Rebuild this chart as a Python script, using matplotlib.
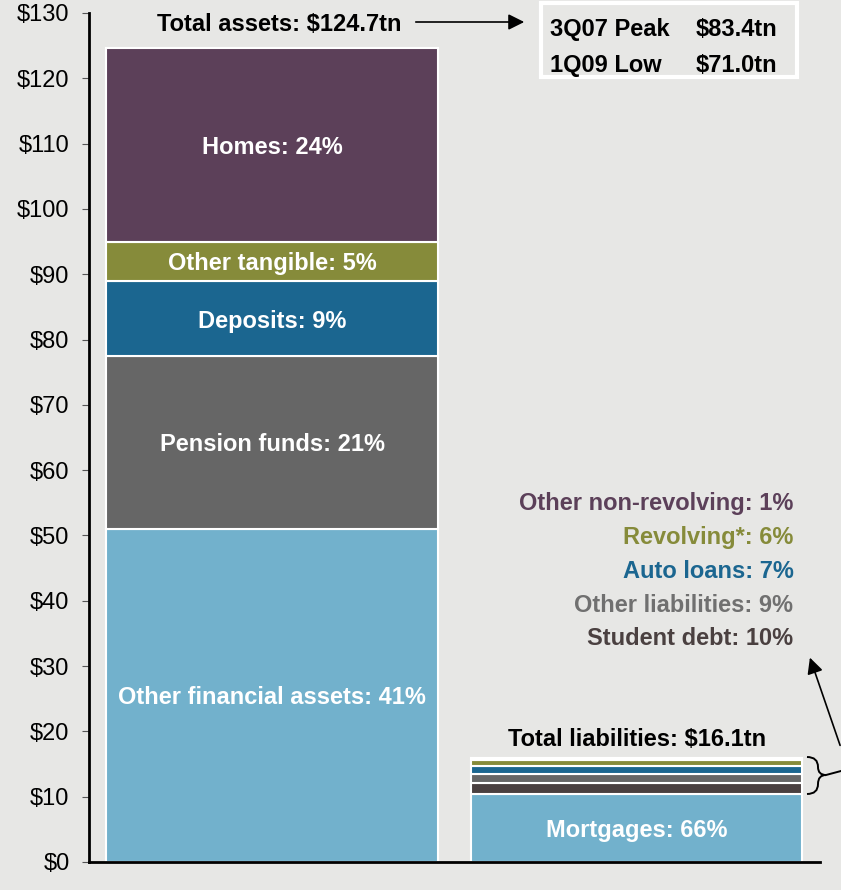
import matplotlib
matplotlib.use("Agg")
import matplotlib.pyplot as plt
from matplotlib.patches import Rectangle, PathPatch
from matplotlib.path import Path

plt.rcParams["font.family"] = ["Liberation Sans", "DejaVu Sans"]

# 数据
asset_names = ["Other financial assets", "Pension funds", "Deposits", "Other tangible", "Homes"]
asset_values = [51.0, 26.5, 11.4, 6.1, 29.7]
asset_pcts = [41, 21, 9, 5, 24]
asset_colors = ["#72b1cc", "#666666", "#1b6690", "#868b3a", "#5c4059"]

liab_names = ["Mortgages", "Student debt", "Other liabilities", "Auto loans", "Revolving*", "Other non-revolving"]
liab_values = [10.4, 1.7, 1.4, 1.15, 1.0, 0.2]
liab_pcts = [66, 10, 9, 7, 6, 1]
liab_colors = ["#72b1cc", "#4a4040", "#666666", "#1b6690", "#868b3a", "#5c4059"]
liab_text_colors = ["#ffffff", "#4a4040", "#707070", "#1b6690", "#868b3a", "#5c4059"]

total_assets = 124.7
total_liab = 16.1
yticks = list(range(0, 131, 10))

bg = "#e7e7e5"
FS = 17
VA = "center_baseline"
W, H = 841, 890
fig = plt.figure(figsize=(W / 100, H / 100), dpi=100, facecolor=bg)
ax = fig.add_axes([89 / W, 1 - 862 / H, 731 / W, 849 / H], facecolor=bg)


def px(x, y):
    return (x / W, 1 - y / H)


# 资产柱
bottom = 0
for name, v, p, c in zip(asset_names, asset_values, asset_pcts, asset_colors):
    ax.bar(0, v, bottom=bottom, width=0.91, color=c, edgecolor="white", linewidth=1.5)
    ax.text(0, bottom + v / 2, f"{name}: {p}%", ha="center", va=VA,
            color="white", fontsize=FS, fontweight="bold")
    bottom += v

# 负债柱
bottom = 0
for name, v, p, c in zip(liab_names, liab_values, liab_pcts, liab_colors):
    ax.bar(1, v, bottom=bottom, width=0.91, color=c, edgecolor="white", linewidth=1.5)
    bottom += v
ax.text(1, liab_values[0] / 2, f"{liab_names[0]}: {liab_pcts[0]}%", ha="center",
        va=VA, color="white", fontsize=FS, fontweight="bold")

# 右侧图例文字
leg_y = [34.6, 39.7, 44.9, 50.1, 55.3]
for y, name, p, c in zip(leg_y, liab_names[1:], liab_pcts[1:], liab_text_colors[1:]):
    ax.text(1.43, y, f"{name}: {p}%", ha="right", va=VA, color=c,
            fontsize=FS, fontweight="bold")

ax.text(0.02, 128.6, f"Total assets: ${total_assets}tn", ha="center", va=VA,
        fontsize=FS, fontweight="bold")
ax.text(1.0, 19.1, f"Total liabilities: ${total_liab}tn", ha="center", va=VA,
        fontsize=FS, fontweight="bold")

ax.annotate("", xy=px(527, 22), xytext=px(413, 22), xycoords="figure fraction",
            textcoords="figure fraction",
            arrowprops=dict(arrowstyle="-|>", color="black", lw=1.2, mutation_scale=24))

# 峰值框
fig.patches.append(Rectangle(px(541, 77), 256 / W, 74 / H, transform=fig.transFigure,
                             facecolor="none", edgecolor="white", linewidth=3))
fig.text(*px(550, 27), "3Q07 Peak", va=VA, fontsize=FS, fontweight="bold")
fig.text(*px(696, 27), "$83.4tn", va=VA, fontsize=FS, fontweight="bold")
fig.text(*px(550, 63), "1Q09 Low", va=VA, fontsize=FS, fontweight="bold")
fig.text(*px(696, 63), "$71.0tn", va=VA, fontsize=FS, fontweight="bold")

# 大括号和箭头
pts = [(807, 757), (818, 757), (818, 767), (818, 775), (826, 775),
       (818, 775), (818, 784), (818, 794), (807, 794)]
verts = [px(x, y) for x, y in pts]
codes = [Path.MOVETO] + [Path.CURVE3] * 8
fig.patches.append(PathPatch(Path(verts, codes), transform=fig.transFigure,
                             facecolor="none", edgecolor="black", lw=1.4))
fig.lines.append(plt.Line2D([826 / W, 841 / W], [1 - 775 / H, 1 - 771 / H],
                            transform=fig.transFigure, color="black", lw=1.4))
ax.annotate("", xy=px(809, 655), xytext=px(841, 748), xycoords="figure fraction",
            textcoords="figure fraction",
            arrowprops=dict(arrowstyle="-|>", color="black", lw=1.2, mutation_scale=24))

ax.set_xlim(-0.502, 1.503)
ax.set_ylim(0, 130)
ax.set_yticks(yticks)
ax.set_yticklabels([f"${t}" for t in yticks], fontsize=FS)
ax.set_xticks([])
ax.tick_params(axis="y", length=5, color="#555555", pad=9)
for s in ["top", "right"]:
    ax.spines[s].set_visible(False)
ax.spines["left"].set_linewidth(2)
ax.spines["bottom"].set_linewidth(2)

fig.savefig("out.png", dpi=100, facecolor=bg)
